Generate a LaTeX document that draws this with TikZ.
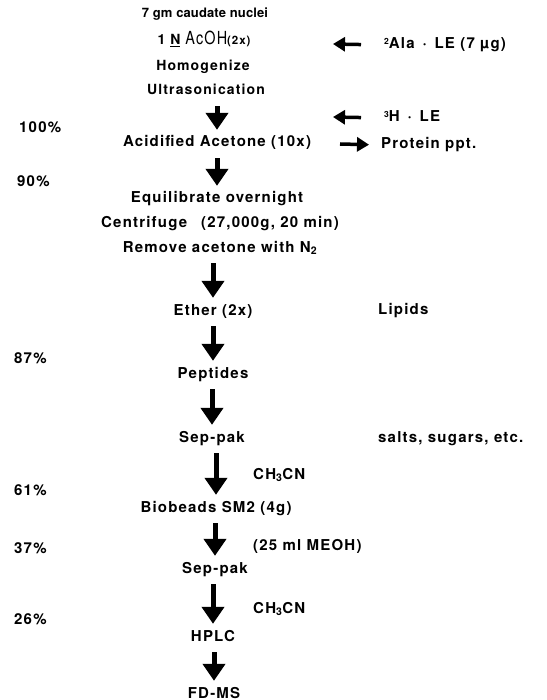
\documentclass[tikz,border=0pt]{standalone}
\usepackage{fontspec}
\setmainfont{TeX Gyre Heros}[LetterSpace=8]
\usetikzlibrary{arrows.meta}
\newcommand{\iso}[1]{\raisebox{.55ex}{\fontsize{8.5}{9}\selectfont#1}}

\begin{document}
\begin{tikzpicture}[x=1pt,y=-1pt,
  stage/.style={inner sep=0pt,text height=11pt,text depth=3pt,font=\fontsize{15}{18}\selectfont\bfseries},
  top/.style={stage,font=\fontsize{14}{16}\selectfont\bfseries},
  side/.style={stage,anchor=west},
  flow/.style={-{Triangle[width=22pt,length=17pt]},line width=5pt,shorten <=8pt,shorten >=6pt},
  feed/.style={-{Triangle[width=14pt,length=12pt]},line width=3.5pt}]
\useasboundingbox (0,0) rectangle (546,700);
% main column
\node[top,font=\fontsize{13}{15}\selectfont\bfseries\addfontfeature{LetterSpace=1}] (nuclei) at (205,14) {7 gm caudate nuclei};
\node[top] (acoh) at (204,41) {1 \underline{N} {\mdseries\scalebox{.8}[1]{\fontsize{18}{18}\selectfont AcOH}}{\fontsize{11.5}{12}\selectfont(2x)}};
\node[top] (homog) at (203,67) {Homogenize};
\node[top] (ultra) at (206,91) {Ultrasonication};
\foreach \n/\x/\y/\t in {acid/217/143/{Acidified Acetone (10x)},equil/217/199/{Equilibrate overnight},
  centri/220/224/{Centrifuge\hspace{14pt}(27,000g, 20 min)},remove/220/248/{Remove acetone with N\textsubscript{2}},
  ether/213/311/{Ether (2x)},pept/213/374/Peptides,sep1/212/438/Sep-pak,
  bio/216/508/{Biobeads SM2 (4g)},sep2/215/569/Sep-pak,hplc/213/637/HPLC,fdms/214/694/FD-MS}
  {\node[stage] (\n) at (\x,\y) {\t};}
\foreach \a/\b in {ultra/acid,acid/equil,remove/ether,ether/pept,pept/sep1,sep1/bio,bio/sep2,sep2/hplc,hplc/fdms}
  {\draw[flow] (\a.south -| \b) -- (\b.north);}
% yields
\foreach \n/\x/\y/\t in {y100/19/129/100\%,y90/17/183/90\%,y87/14/359/87\%,y61/14/491/61\%,y37/14/549/37\%,y26/14/620/26\%}
  {\node[side] (\n) at (\x,\y) {\t};}
% additions and removals
\node[side] (ala) at (384,45) {\iso{2}Ala \,·\, LE (7 µg)};
\node[side] (tri) at (384,118) {\iso{3}H \,·\, LE};
\node[side] (prot) at (381,145) {Protein ppt.};
\node[side] (lipids) at (378,310) {Lipids};
\node[side] (salts) at (378,438) {salts, sugars, etc.};
\node[side] (ch1) at (253,475) {CH\textsubscript{3}CN};
\node[side] (meoh) at (253,546) {(25 ml MEOH)};
\node[side] (ch2) at (253,609) {CH\textsubscript{3}CN};
\coordinate (alatip) at (333,44);
\coordinate (tritip) at (333,117);
\coordinate (prottail) at (340,144);
\draw[feed,shorten <=23pt] (ala.west) -- (alatip);
\draw[feed,shorten <=23pt] (tri.west) -- (tritip);
\draw[feed,shorten >=12pt] (prottail) -- (prot.west);
\end{tikzpicture}
\end{document}
